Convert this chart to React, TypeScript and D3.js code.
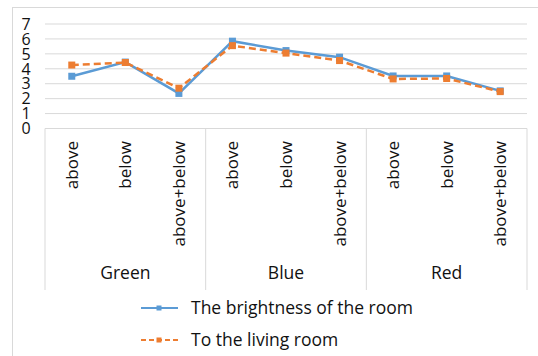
import React from "react";
import * as d3 from "d3";

const groups = ["Green", "Blue", "Red"];
const subCats = ["above", "below", "above+below"];
const brightness = [3.5, 4.45, 2.35, 5.85, 5.22, 4.78, 3.52, 3.52, 2.52];
const living = [4.25, 4.42, 2.7, 5.55, 5.05, 4.55, 3.32, 3.35, 2.47];
const yTicks = [0, 1, 2, 3, 4, 5, 6, 7];
const seriesNames = ["The brightness of the room", "To the living room"];
const colors = ["#5B9BD5", "#ED7D31"];

const W = 538, H = 356;
const FONT = "'Open Sans', sans-serif";

export default function App() {
  const cats = groups.flatMap((g) => subCats.map((s) => `${g}|${s}`));
  const x = d3.scaleBand<string>().domain(cats).range([45, 527]);
  const y = d3.scaleLinear().domain([0, 7]).range([128.5, 24]);
  const line = d3
    .line<number>()
    .x((_, i) => (x(cats[i]) as number) + x.bandwidth() / 2)
    .y((d) => y(d));
  const series = [brightness, living];
  const groupW = x.bandwidth() * subCats.length;
  const catTop = 128.5, catBottom = 290;

  return (
    <svg width={W} height={H} style={{ position: "absolute", left: 0, top: 0, background: "#fff" }} fontFamily={FONT}>
      <rect x={12.5} y={7.5} width={540} height={360} fill="none" stroke="#d9d9d9" />
      {yTicks.slice(1).map((t) => (
        <line key={t} x1={45} x2={527} y1={y(t)} y2={y(t)} stroke="#d9d9d9" strokeWidth={1} />
      ))}
      {yTicks.map((t) => (
        <text key={t} x={26} y={y(t)} dy="0.36em" textAnchor="middle" fontSize={16} fill="#111">
          {t}
        </text>
      ))}
      {/* category axis boxes */}
      <line x1={45} x2={527} y1={catTop} y2={catTop} stroke="#d9d9d9" />
      {d3.range(groups.length + 1).map((i) => (
        <line key={i} x1={45 + i * groupW} x2={45 + i * groupW} y1={catTop} y2={catBottom} stroke="#d9d9d9" />
      ))}
      {cats.map((c, i) => {
        const cx = (x(c) as number) + x.bandwidth() / 2;
        return (
          <text key={c} transform={`translate(${cx},141) rotate(-90)`} textAnchor="end" dy="0.35em" fontSize={17} fill="#111">
            {subCats[i % 3]}
          </text>
        );
      })}
      {groups.map((g, i) => (
        <text key={g} x={45 + (i + 0.5) * groupW} y={273} dy="0.35em" textAnchor="middle" fontSize={17.5} fill="#111">
          {g}
        </text>
      ))}
      {series.map((s, k) => (
        <g key={k}>
          <path d={line(s) as string} fill="none" stroke={colors[k]} strokeWidth={2.5} strokeDasharray={k === 1 ? "7,4" : undefined} />
          {s.map((v, i) => (
            <rect key={i} x={(x(cats[i]) as number) + x.bandwidth() / 2 - 3.5} y={y(v) - 3.5} width={7} height={7} fill={colors[k]} />
          ))}
        </g>
      ))}
      {seriesNames.map((n, k) => {
        const ly = 308 + k * 32;
        return (
          <g key={n}>
            <line x1={141} x2={178} y1={ly} y2={ly} stroke={colors[k]} strokeWidth={2} strokeDasharray={k === 1 ? "5,3" : undefined} />
            <rect x={156.5} y={ly - 2.5} width={5} height={5} fill={colors[k]} />
            <text x={191} y={ly} dy="0.35em" fontSize={17.5} fill="#111">
              {n}
            </text>
          </g>
        );
      })}
    </svg>
  );
}
